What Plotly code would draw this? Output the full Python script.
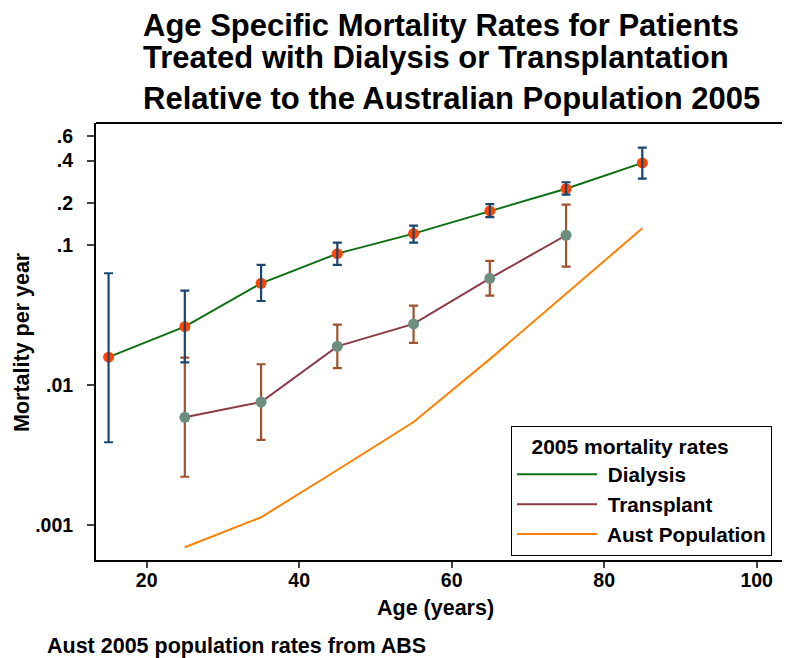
import plotly.graph_objects as go

# ---- data ----
dial_age = [15, 25, 35, 45, 55, 65, 75, 85]
dial_rate = [0.0158, 0.0261, 0.0532, 0.0867, 0.1205, 0.175, 0.2523, 0.3855]
dial_hi = [0.0628, 0.0472, 0.0720, 0.1038, 0.1374, 0.1954, 0.2805, 0.4955]
dial_lo = [0.0039, 0.0145, 0.0398, 0.0720, 0.1038, 0.158, 0.2285, 0.298]

tx_age = [25, 35, 45, 55, 65, 75]
tx_rate = [0.00588, 0.00756, 0.01888, 0.0273, 0.0578, 0.1173]
tx_hi = [0.01567, 0.01406, 0.0270, 0.0369, 0.0769, 0.194]
tx_lo = [0.00221, 0.00405, 0.0132, 0.0200, 0.0435, 0.070]

pop_age = [25, 35, 45, 55, 65, 75, 85]
pop_rate = [0.000694, 0.001135, 0.00247, 0.00544, 0.0153, 0.0448, 0.1315]

ytick_vals = [0.001, 0.01, 0.1, 0.2, 0.4, 0.6]
ytick_text = ['.001', '.01', '.1', '.2', '.4', '.6']
xtick_vals = [20, 40, 60, 80, 100]

FONT = "Liberation Sans, Arial, sans-serif"
C_DIAL = "#0d6e14"
C_TX = "#8c3a45"
C_POP = "#ff8000"
C_DIAL_CI = "#1a476f"
C_TX_CI = "#a0522d"
C_DIAL_M = "#ff4500"
C_TX_M = "#6e8e80"

# page body has an 8px margin -> layout coords = page coords - 8
OFF = 8
PL, PR, PT, PB = 96, 790, 123, 560      # plot box in page pixels
PW, PH = PR - PL, PB - PT


def px(p):
    return (p - PL) / PW


def py(p):
    return (PB - p) / PH


fig = go.Figure()

# legend line traces
fig.add_trace(go.Scatter(x=dial_age, y=dial_rate, mode='lines', name=' Dialysis',
                         line=dict(color=C_DIAL, width=2), legendgroup='a'))
fig.add_trace(go.Scatter(x=tx_age, y=tx_rate, mode='lines', name=' Transplant',
                         line=dict(color=C_TX, width=2), legendgroup='b'))
fig.add_trace(go.Scatter(x=pop_age, y=pop_rate, mode='lines', name=' Aust Population',
                         line=dict(color=C_POP, width=2), legendgroup='c'))

# transplant CI + markers
fig.add_trace(go.Scatter(x=tx_age, y=tx_rate, mode='markers', showlegend=False,
                         marker=dict(color='rgba(0,0,0,0)', size=1),
                         error_y=dict(type='data', symmetric=False,
                                      array=[h - v for h, v in zip(tx_hi, tx_rate)],
                                      arrayminus=[v - l for l, v in zip(tx_lo, tx_rate)],
                                      color=C_TX_CI, thickness=2.2, width=4.5)))
fig.add_trace(go.Scatter(x=tx_age, y=tx_rate, mode='markers', showlegend=False,
                         marker=dict(color=C_TX_M, size=11)))

# dialysis markers + CI
fig.add_trace(go.Scatter(x=dial_age, y=dial_rate, mode='markers', showlegend=False,
                         marker=dict(color=C_DIAL_M, size=11)))
fig.add_trace(go.Scatter(x=dial_age, y=dial_rate, mode='markers', showlegend=False,
                         marker=dict(color='rgba(0,0,0,0)', size=1),
                         error_y=dict(type='data', symmetric=False,
                                      array=[h - v for h, v in zip(dial_hi, dial_rate)],
                                      arrayminus=[v - l for l, v in zip(dial_lo, dial_rate)],
                                      color=C_DIAL_CI, thickness=2.2, width=4.5)))

title_lines = ["Age Specific Mortality Rates for Patients",
               "Treated with Dialysis or Transplantation",
               "Relative to the Australian Population 2005"]
title_y = [26, 58, 98]
annotations = []
for t, yy in zip(title_lines, title_y):
    annotations.append(dict(text=t, xref='paper', yref='paper', x=px(141), y=py(yy),
                            xanchor='left', yanchor='middle', showarrow=False,
                            font=dict(family=FONT, size=31, color='black', weight=700)))
annotations.append(dict(text="Mortality per year", xref='paper', yref='paper',
                        x=px(22), y=py(342), textangle=-90,
                        xanchor='center', yanchor='middle', showarrow=False,
                        font=dict(family=FONT, size=21.5, color='black', weight=700)))
annotations.append(dict(text="Age (years)", xref='paper', yref='paper',
                        x=px(435), y=py(608),
                        xanchor='center', yanchor='middle', showarrow=False,
                        font=dict(family=FONT, size=21.5, color='black', weight=700)))
annotations.append(dict(text="Aust 2005 population rates from ABS", xref='paper', yref='paper',
                        x=px(45), y=py(646),
                        xanchor='left', yanchor='middle', showarrow=False,
                        font=dict(family=FONT, size=21.5, color='black', weight=700)))

fig.update_layout(
    width=790 - OFF, height=658 - OFF,
    margin=dict(l=PL - OFF, r=0, t=PT - OFF, b=658 - PB, autoexpand=False),
    paper_bgcolor='white', plot_bgcolor='white',
    showlegend=True,
    legend=dict(x=px(511), y=py(426), xanchor='left', yanchor='top',
                bgcolor='white', bordercolor='black', borderwidth=1,
                title=dict(text="\u00a0\u00a0\u00a02005 mortality rates",
                           font=dict(family=FONT, size=21, color='black', weight=700)),
                font=dict(family=FONT, size=20.7, color='black', weight=700),
                itemwidth=80, traceorder='grouped', tracegroupgap=0),
    xaxis=dict(range=[13.35, 104.37], tickvals=xtick_vals, ticks='outside', ticklen=6,
               tickcolor='#444', tickwidth=1.5, showline=True, linecolor='black', linewidth=2,
               showgrid=False, zeroline=False, ticklabelstandoff=-4,
               tickfont=dict(family=FONT, size=19.5, color='black', weight=700)),
    yaxis=dict(type='log', range=[-3.25, -0.129], tickvals=ytick_vals, ticktext=ytick_text,
               ticks='outside', ticklen=7, tickcolor='#444', tickwidth=1.5, showline=True,
               linecolor='black', linewidth=2, showgrid=False, zeroline=False,
               ticklabelstandoff=10,
               tickfont=dict(family=FONT, size=19.5, color='black', weight=700)),
    shapes=[dict(type='line', xref='paper', yref='paper', x0=0, x1=1, y0=1, y1=1,
                 line=dict(color='black', width=2))],
    annotations=annotations,
)

fig.write_html("out.html")
